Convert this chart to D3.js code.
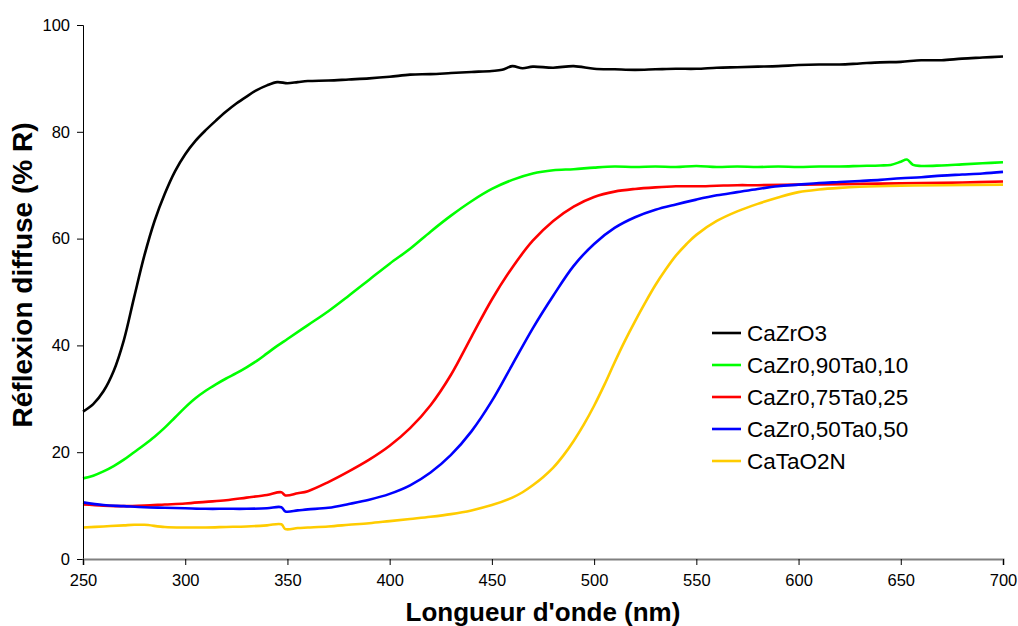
<!DOCTYPE html>
<html>
<head>
<meta charset="utf-8">
<script src="https://cdn.jsdelivr.net/npm/d3@7"></script>
<style>
  html, body { margin: 0; padding: 0; background: #fff; }
  svg { display: block; font-family: "Liberation Sans", Arial, sans-serif; }
</style>
</head>
<body>
<svg id="chart" width="1018" height="626"></svg>
<script>
// ---- Data ----
const seriesNames = ["CaZrO3", "CaZr0,90Ta0,10", "CaZr0,75Ta0,25", "CaZr0,50Ta0,50", "CaTaO2N"];
const seriesColors = ["#000000", "#00ff00", "#ff0000", "#0000ff", "#ffcc00"];

const xTicks = [250, 300, 350, 400, 450, 500, 550, 600, 650, 700];
const yTicks = [0, 20, 40, 60, 80, 100];

const wlCaZrO3 = [250,255,260,265,270,275,280,285,290,295,300,305,310,315,320,325,330,335,340,345,350,355,360,370,380,390,400,410,420,430,440,450,455,460,465,470,480,490,500,510,520,530,540,550,560,570,580,590,600,610,620,630,640,650,660,670,680,690,700];
const valCaZrO3 = [27.6,29.0,31.4,35.2,41.0,49.0,56.8,63.3,68.4,72.6,75.8,78.3,80.3,82.1,83.8,85.3,86.6,87.8,88.7,89.3,89.1,89.3,89.5,89.6,89.8,90.0,90.3,90.7,90.8,91.0,91.2,91.4,91.6,92.3,91.9,92.2,92.0,92.3,91.8,91.7,91.6,91.7,91.8,91.8,92.0,92.1,92.2,92.3,92.5,92.6,92.6,92.8,93.0,93.1,93.4,93.4,93.7,93.9,94.1];

const wlCaZr090 = [250,255,260,265,270,275,280,285,290,295,300,305,310,315,320,325,330,335,340,345,350,360,370,380,390,400,410,420,430,440,450,460,470,480,490,500,510,520,530,540,550,560,570,580,590,600,610,620,630,640,645,650,653,656,660,670,680,690,700];
const valCaZr090 = [15.1,15.6,16.4,17.4,18.6,20.0,21.4,22.9,24.6,26.5,28.4,30.1,31.5,32.7,33.8,34.8,35.9,37.1,38.5,39.9,41.2,43.8,46.4,49.3,52.3,55.3,58.1,61.3,64.3,67.0,69.3,71.0,72.2,72.8,73.0,73.3,73.5,73.4,73.5,73.4,73.6,73.4,73.5,73.4,73.5,73.4,73.5,73.5,73.6,73.7,73.8,74.4,74.8,73.8,73.6,73.7,73.9,74.1,74.3];

const wlCaZr075 = [250,260,270,280,290,300,310,320,330,340,347,349,355,360,370,380,390,400,410,420,430,440,450,460,470,480,490,500,510,520,530,540,550,560,570,580,600,620,640,660,680,700];
const valCaZr075 = [10.2,10.0,9.9,10.0,10.2,10.4,10.7,11.0,11.5,12.0,12.5,11.9,12.3,12.7,14.4,16.4,18.6,21.2,24.5,28.8,34.5,41.6,48.6,54.6,59.6,63.3,66.0,67.8,68.8,69.3,69.6,69.8,69.8,69.9,70.0,70.0,70.1,70.2,70.3,70.4,70.5,70.7];

const wlCaZr050 = [250,260,270,280,290,300,310,320,330,340,347,349,355,360,370,380,390,400,410,420,430,440,450,460,470,480,490,500,510,520,530,540,550,560,570,580,590,600,610,620,630,640,650,660,670,680,690,700];
const valCaZr050 = [10.6,10.1,9.9,9.7,9.6,9.5,9.4,9.4,9.4,9.5,9.7,8.9,9.1,9.3,9.6,10.3,11.1,12.2,13.8,16.2,19.5,23.9,29.6,36.4,43.2,49.3,54.9,59.0,62.0,64.0,65.4,66.4,67.3,68.1,68.7,69.3,69.8,70.1,70.4,70.6,70.8,71.0,71.3,71.5,71.8,72.0,72.2,72.5];

const wlCaTaO2N = [250,260,270,275,280,290,300,310,320,330,340,347,349,355,360,370,380,390,400,410,420,430,440,450,460,465,470,475,480,485,490,495,500,505,510,515,520,525,530,535,540,545,550,560,570,580,590,600,610,620,630,650,670,700];
const valCaTaO2N = [5.9,6.1,6.3,6.4,6.4,6.0,5.9,5.9,6.0,6.1,6.3,6.5,5.6,5.8,5.9,6.1,6.4,6.7,7.1,7.5,7.9,8.4,9.1,10.1,11.5,12.5,13.8,15.3,17.1,19.4,22.1,25.2,28.7,32.6,36.8,40.8,44.5,48.0,51.3,54.2,56.8,58.9,60.7,63.3,65.1,66.5,67.7,68.7,69.2,69.5,69.7,69.9,70.0,70.1];

const wavelengths = [wlCaZrO3, wlCaZr090, wlCaZr075, wlCaZr050, wlCaTaO2N];
const values = [valCaZrO3, valCaZr090, valCaZr075, valCaZr050, valCaTaO2N];

const xTitle = "Longueur d'onde (nm)";
const yTitle = "Réflexion diffuse (% R)";

// ---- Layout ----
const mLeft = 83, mRight = 1003, mTop = 25, mBottom = 559;
const svg = d3.select("#chart");

const x = d3.scaleLinear().domain([250, 700]).range([mLeft, mRight]);
const y = d3.scaleLinear().domain([0, 100]).range([mBottom, mTop]);

// Curves
const line = d3.line().x(d => x(d[0])).y(d => y(d[1])).curve(d3.curveCatmullRom.alpha(0.5));
const plot = svg.append("g");
seriesNames.forEach((name, i) => {
  const pts = wavelengths[i].map((w, j) => [w, values[i][j]]);
  plot.append("path")
    .datum(pts)
    .attr("fill", "none")
    .attr("stroke", seriesColors[i])
    .attr("stroke-width", 2.6)
    .attr("stroke-linejoin", "round")
    .attr("d", line);
});

// Y axis
const yAxis = d3.axisLeft(y).tickValues(yTicks).tickSize(6).tickPadding(7);
const gy = svg.append("g").attr("transform", `translate(${mLeft},0)`).call(yAxis);
gy.select(".domain").attr("stroke", "#000").attr("stroke-width", 1);
gy.selectAll(".tick line").attr("stroke", "#000");
gy.selectAll(".tick text").attr("font-size", 16.5).attr("fill", "#000")
  .style("font-family", "'Liberation Sans', Arial, sans-serif");

// X axis
const xAxis = d3.axisBottom(x).tickValues(xTicks).tickSize(6).tickPadding(9);
const gx = svg.append("g").attr("transform", `translate(0,${mBottom})`).call(xAxis);
gx.select(".domain").attr("stroke", "#808080").attr("stroke-width", 2);
gx.selectAll(".tick line").attr("stroke", "#000");
gx.selectAll(".tick text").attr("font-size", 16.5).attr("fill", "#000")
  .style("font-family", "'Liberation Sans', Arial, sans-serif");

// Axis titles
svg.append("text")
  .attr("x", 543)
  .attr("y", 621)
  .attr("text-anchor", "middle")
  .attr("font-size", 26)
  .attr("font-weight", "bold")
  .text(xTitle);

svg.append("text")
  .attr("transform", `translate(32,275) rotate(-90)`)
  .attr("text-anchor", "middle")
  .attr("font-size", 28)
  .attr("font-weight", "bold")
  .text(yTitle);

// Legend
const lg = svg.append("g");
seriesNames.forEach((name, i) => {
  const ly = 333 + i * 32;
  lg.append("line")
    .attr("x1", 712).attr("x2", 741)
    .attr("y1", ly).attr("y2", ly)
    .attr("stroke", seriesColors[i]).attr("stroke-width", 2.6);
  lg.append("text")
    .attr("x", 747).attr("y", ly)
    .attr("dy", "0.35em")
    .attr("font-size", 22.5)
    .text(name);
});
</script>
</body>
</html>
